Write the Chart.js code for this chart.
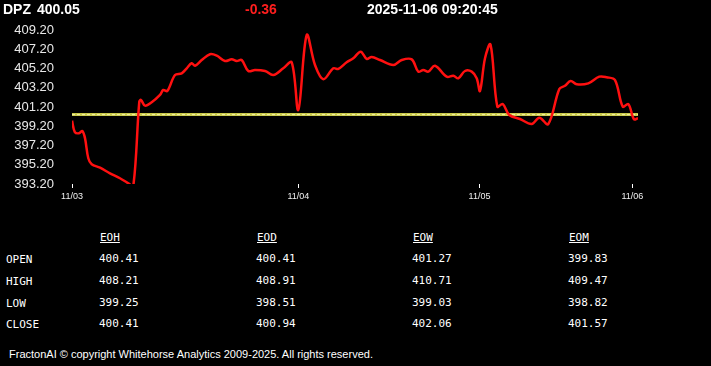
<!DOCTYPE html>
<html>
<head>
<meta charset="utf-8">
<script src="https://cdn.jsdelivr.net/npm/chart.js@4"></script>
<style>
  body { margin: 0; background: #000; width: 711px; height: 366px; overflow: hidden; position: relative; font-family: Arial, "Liberation Sans", sans-serif; color: #fff; }
  #chartWrap { position: absolute; left: 0; top: 0; width: 711px; height: 212px; }
  .hdr { position: absolute; top: 1px; font-weight: bold; font-size: 14px; }
  .tbl { position: absolute; font-family: "DejaVu Sans Mono", monospace; font-size: 11px; color: #fff; }
  .tbl.head { text-decoration: underline; }
  #footer { position: absolute; left: 9px; top: 348px; font-size: 11px; }
</style>
</head>
<body>
<div id="chartWrap"><canvas id="chart" width="711" height="212"></canvas></div>
<div class="hdr" style="left:3px">DPZ</div>
<div class="hdr" style="left:37px">400.05</div>
<div class="hdr" style="left:245px;color:#ff1e1e">-0.36</div>
<div class="hdr" style="left:367px">2025-11-06 09:20:45</div>
<div id="table"></div>
<div id="footer">FractonAI © copyright Whitehorse Analytics 2009-2025. All rights reserved.</div>
<script>
// bar index along the x axis (11/03 open = 0)
const barIdx = [
  0, 0.5, 1.24, 1.82, 2.3, 2.88, 3.48, 4.95, 6.71, 8.48, 9.95, 10.83,
  11.89, 12.19, 12.9, 14.08, 15.55, 16.13, 16.84, 18.2, 19.38, 20.27, 21.15, 21.73,
  22.92, 24.38, 25.57, 27.03, 28.22, 29.1, 29.98, 31.15, 32.33, 34.1, 35.57, 37.33,
  38.82, 39.98, 41.47, 42.93, 44.4, 46.17, 47.05, 48.53, 49.7, 51.0, 52.07, 52.95,
  54.42, 56.77, 58.25, 60.02, 61.18, 62.07, 62.95, 64.13, 66.2, 67.37, 68.25, 69.43,
  70.62, 71.5, 72.08, 72.97, 73.94, 75.14, 76.1, 77.26, 79.15, 81.22, 82.56, 84.15,
  86.1, 87.1, 88.1, 89.17, 91.22, 93.16, 94.47, 95.94, 97.3, 98.29, 99.29, 100
];
const prices = [
  399.78, 398.6, 398.47, 398.71, 397.95, 395.87, 395.25, 394.9, 394.31, 393.8, 393.27, 393.0,
  401.75, 401.93, 401.34, 401.69, 402.45, 402.97, 402.86, 404.52, 404.7, 405.22, 405.74, 405.49,
  406.08, 406.68, 406.53, 405.98, 406.15, 405.98, 406.08, 404.94, 405.04, 404.94, 404.52, 405.22,
  405.84, 400.89, 408.68, 405.56, 404.08, 405.22, 405.15, 405.84, 406.26, 406.95, 406.19, 406.4,
  406.08, 405.56, 406.08, 406.15, 404.87, 405.04, 404.87, 405.49, 404.35, 404.45, 404.18, 404.94,
  404.87, 404.18, 402.86, 406.26, 407.7, 401.24, 401.51, 400.37, 399.95, 399.43, 400.09, 399.43,
  403.07, 403.41, 403.9, 403.56, 403.66, 404.35, 404.29, 404.0, 401.24, 401.51, 399.92, 400.05
];
const prevClose = 400.41;

const dayTicks = [0, 40, 72, 99];
const dayLabels = ["11/03", "11/04", "11/05", "11/06"];
const yTicks = [393.2, 395.2, 397.2, 399.2, 401.2, 403.2, 405.2, 407.2, 409.2];

const rowNames = ["OPEN", "HIGH", "LOW", "CLOSE"];
const colNames = ["EOH", "EOD", "EOW", "EOM"];
const eohVals = [400.41, 408.21, 399.25, 400.41];
const eodVals = [400.41, 408.91, 398.51, 400.94];
const eowVals = [401.27, 410.71, 399.03, 402.06];
const eomVals = [399.83, 409.47, 398.82, 401.57];

// stats table
const table = document.getElementById("table");
const colX = [99, 256, 412, 568];
const rowY = [252, 274, 296, 317];
const colVals = [eohVals, eodVals, eowVals, eomVals];
function addCell(text, x, y, cls) {
  const d = document.createElement("div");
  d.className = "tbl" + (cls ? " " + cls : "");
  d.style.left = x + "px";
  d.style.top = y + "px";
  d.textContent = text;
  table.appendChild(d);
}
colNames.forEach((c, i) => addCell(c, colX[i] + 1, 231, "head"));
rowNames.forEach((r, j) => {
  addCell(r, 6, rowY[j] + 1);
  colVals.forEach((vals, i) => addCell(vals[j].toFixed(2), colX[i], rowY[j]));
});

const xMin = barIdx[0];
const xMax = barIdx[barIdx.length - 1];

new Chart(document.getElementById("chart"), {
  type: "line",
  data: {
    datasets: [
      {
        data: barIdx.map((x, i) => ({ x: x, y: prices[i] })),
        borderColor: "#ff1010",
        borderWidth: 2.5,
        pointRadius: 0,
        tension: 0.35,
        order: 0
      },
      {
        data: [{ x: xMin, y: prevClose }, { x: xMax, y: prevClose }],
        borderColor: "#f2f2a8",
        borderWidth: 1,
        borderDash: [3, 2],
        pointRadius: 0,
        order: 1
      },
      {
        data: [{ x: xMin, y: prevClose }, { x: xMax, y: prevClose }],
        borderColor: "#c9c94a",
        borderWidth: 3,
        pointRadius: 0,
        order: 2
      }
    ]
  },
  options: {
    responsive: false,
    animation: false,
    layout: { padding: { top: 30, right: 73, bottom: 0, left: 0 } },
    plugins: { legend: { display: false }, tooltip: { enabled: false } },
    scales: {
      x: {
        type: "linear",
        min: xMin,
        max: xMax,
        afterBuildTicks: s => { s.ticks = dayTicks.map(v => ({ value: v })); },
        afterFit: s => { s.height = 28; },
        ticks: {
          autoSkip: false,
          maxRotation: 0,
          color: "#f0f0f0",
          font: { family: "Arial", size: 9 },
          padding: 3,
          callback: (v) => dayLabels[dayTicks.indexOf(v)]
        },
        grid: { drawOnChartArea: false, drawTicks: true, tickLength: 4, color: "#ffffff", lineWidth: 1 },
        border: { display: false }
      },
      y: {
        min: yTicks[0],
        max: yTicks[yTicks.length - 1],
        afterBuildTicks: s => { s.ticks = yTicks.map(v => ({ value: v })); },
        afterFit: s => { s.width = 72; },
        ticks: {
          color: "#e8e8e8",
          font: { family: "Arial", size: 13 },
          padding: 10,
          callback: v => Number(v).toFixed(2)
        },
        grid: { display: false },
        border: { display: false }
      }
    }
  }
});
</script>
</body>
</html>
